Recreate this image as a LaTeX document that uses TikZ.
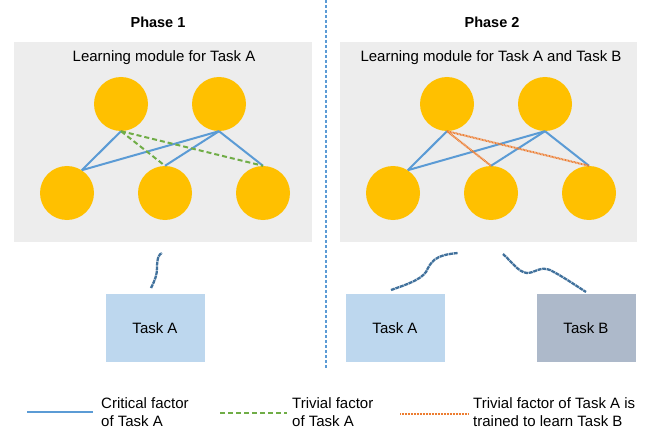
\documentclass[tikz,border=0pt]{standalone}
\usepackage{fontspec}
\setmainfont{Liberation Sans}
\definecolor{gold}{HTML}{FFC000}
\definecolor{panel}{HTML}{EDEDED}
\definecolor{cblue}{HTML}{5B9BD5}
\definecolor{cgreen}{HTML}{70AD47}
\definecolor{corange}{HTML}{ED7D31}
\definecolor{taska}{HTML}{BDD7EE}
\definecolor{taskb}{HTML}{ADB9CA}
\definecolor{squig}{HTML}{41719C}
\tikzset{
  neuron/.style={circle, fill=gold, minimum size=54pt, inner sep=0pt},
  panelbox/.style={fill=panel, draw=none},
  critical/.style={cblue, line width=2pt},
  trivial/.style={cgreen, line width=2pt, dash pattern=on 5pt off 3pt},
  trained/.style={corange, line width=2pt, dash pattern=on 0.9pt off 0.6pt},
  taskbox/.style={minimum width=99pt, minimum height=68pt, inner sep=0pt, font=\fontsize{15}{18}\selectfont},
  squiggle/.style={squig, line width=2.3pt, dash pattern=on 4pt off 0.7pt},
  legtext/.style={anchor=west, align=left, font=\fontsize{15}{18}\selectfont, inner sep=0pt},
  titletext/.style={font=\bfseries\fontsize{14.5}{17}\selectfont},
  modtext/.style={font=\fontsize{15}{18}\selectfont}
}
\begin{document}
\begin{tikzpicture}[x=1pt, y=-1pt]
\useasboundingbox (0,0) rectangle (649,428);
% titles
\node[titletext] (t1) at (158,22) {Phase 1};
\node[titletext] (t2) at (492,22) {Phase 2};
% divider
\draw[cblue, line width=1.3pt, dash pattern=on 3pt off 2pt] (326,0) -- (326,368);
% panels
\fill[panelbox] (14,42) rectangle (312,242);
\fill[panelbox] (340,42) rectangle (637,242);
\node[modtext] (m1) at (164,58) {Learning module for Task A};
\node[modtext] (m2) at (491,58) {Learning module for Task A and Task B};
% left neurons
\node[neuron] (a1) at (121,104) {};
\node[neuron] (a2) at (219,104) {};
\node[neuron] (b1) at (67,193) {};
\node[neuron] (b2) at (165,193) {};
\node[neuron] (b3) at (263,193) {};
\draw[critical] (a1.south) -- (b1.57);
\draw[critical] (a2.south) -- (b1.57);
\draw[critical] (a2.south) -- (b2.north);
\draw[critical] (a2.south) -- (b3.north);
\draw[trivial] (a1.south) -- (b2.north);
\draw[trivial] (a1.south) -- (b3.north);
% right neurons
\node[neuron] (c1) at (447,104) {};
\node[neuron] (c2) at (545,104) {};
\node[neuron] (d1) at (393,193) {};
\node[neuron] (d2) at (491,193) {};
\node[neuron] (d3) at (589,193) {};
\draw[critical] (c1.south) -- (d1.57);
\draw[critical] (c2.south) -- (d1.57);
\draw[critical] (c2.south) -- (d2.north);
\draw[critical] (c2.south) -- (d3.north);
\draw[trained] (c1.south) -- (d2.north);
\draw[trained] (c1.south) -- (d3.north);
% task boxes
\node[taskbox, fill=taska] (ta1) at (155,328) {Task A};
\node[taskbox, fill=taska] (ta2) at (395,328) {Task A};
\node[taskbox, fill=taskb] (tb2) at (586,328) {Task B};
% squiggles
\draw[squiggle] (151,288) .. controls (155,280) and (157,275) .. (157,268) .. controls (157,258) and (159,254) .. (162,253);
\draw[squiggle] (391,290) .. controls (408,284) and (420,280) .. (426,272) .. controls (431,262) and (434,255) .. (458,253);
\draw[squiggle] (503,254) .. controls (512,262) and (518,272) .. (527,273) .. controls (535,273) and (540,266) .. (550,270) .. controls (562,276) and (575,285) .. (586,292);
% legend
\coordinate (l1a) at (27,412); \coordinate (l1b) at (93,412);
\coordinate (l2a) at (220,413); \coordinate (l2b) at (287,413);
\coordinate (l3a) at (400,414); \coordinate (l3b) at (468,414);
\draw[critical] (l1a) -- (l1b);
\draw[trivial] (l2a) -- (l2b);
\draw[trained] (l3a) -- (l3b);
\node[legtext] (lt1) at (101,412) {Critical factor\\of Task A};
\node[legtext] (lt2) at (292,412) {Trivial factor\\of Task A};
\node[legtext] (lt3) at (473,412) {Trivial factor of Task A is\\trained to learn Task B};
\end{tikzpicture}
\end{document}
